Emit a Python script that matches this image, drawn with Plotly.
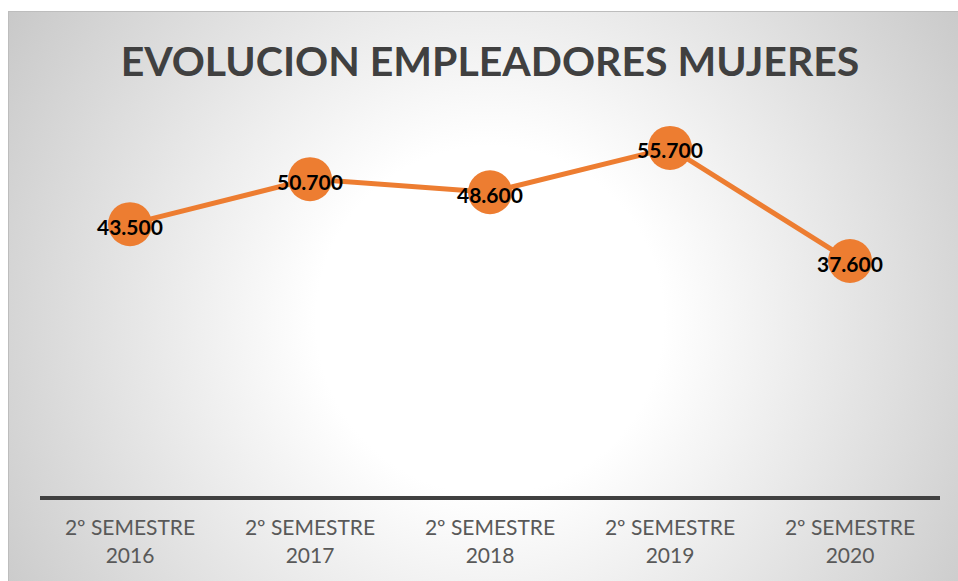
import base64
import plotly.graph_objects as go

categories = ["2º SEMESTRE<br>2016", "2º SEMESTRE<br>2017", "2º SEMESTRE<br>2018",
              "2º SEMESTRE<br>2019", "2º SEMESTRE<br>2020"]
values = [43500, 50700, 48600, 55700, 37600]
title_text = "EVOLUCION EMPLEADORES MUJERES"

W, H = 958, 581
ML, MR, MT, MB = 40, 18, 121, 85
PW, PH = W - ML - MR, H - MT - MB

# radial gradient background (image)
bx0, by0, bw, bh = 8, 11, 950, 570
svg = f'''<svg xmlns="http://www.w3.org/2000/svg" width="{bw}" height="{bh}" viewBox="0 0 {bw} {bh}">
<defs><radialGradient id="g" gradientUnits="userSpaceOnUse" cx="482" cy="309" r="620">
<stop offset="0" stop-color="#ffffff"/><stop offset="0.28" stop-color="#ffffff"/>
<stop offset="1" stop-color="#c2c2c2"/></radialGradient></defs>
<rect x="0" y="0" width="{bw}" height="{bh}" fill="url(#g)"/>
<rect x="0.5" y="0.5" width="{bw+2}" height="{bh+2}" fill="none" stroke="#bdbdbd" stroke-width="1"/>
</svg>'''
src = "data:image/svg+xml;base64," + base64.b64encode(svg.encode()).decode()

fig = go.Figure()
fig.add_trace(go.Scatter(
    x=categories, y=values, mode="lines+markers",
    line=dict(color="#ED7D31", width=5),
    marker=dict(size=44, color="#ED7D31"),
    hoverinfo="skip", cliponaxis=False,
))

for c, v in zip(categories, values):
    fig.add_annotation(
        x=c, y=v, xref="x", yref="y", showarrow=False,
        text=f"{v:,.0f}".replace(",", "."), yshift=-2,
        font=dict(family="Lato", size=21, color="#000000", weight="bold"),
    )

fig.update_layout(
    width=W, height=H,
    margin=dict(l=ML, r=MR, t=MT, b=MB),
    paper_bgcolor="#ffffff", plot_bgcolor="rgba(0,0,0,0)",
    showlegend=False,
    title=dict(text=title_text, x=(490 - ML) / PW, xref="paper", xanchor="center",
               y=1 - 62 / H, yanchor="middle",
               font=dict(family="Lato", size=41, color="#404040", weight="bold")),
    xaxis=dict(showgrid=False, zeroline=False, showline=True, linecolor="#404040",
               linewidth=4, ticks="", range=[-0.5, 4.5],
               tickfont=dict(family="Lato", size=21, color="#595959"),
               ticklabelstandoff=10, fixedrange=True),
    yaxis=dict(range=[0, 60000], visible=False, fixedrange=True),
    images=[dict(source=src, xref="paper", yref="paper",
                 x=(bx0 - ML) / PW, y=(H - MB - by0) / PH,
                 sizex=bw / PW, sizey=bh / PH, sizing="stretch",
                 xanchor="left", yanchor="top", layer="below")],
)

fig.write_html("out.html", config={"displayModeBar": False},
               post_script="document.body.style.margin='0';document.body.style.overflow='hidden';")
